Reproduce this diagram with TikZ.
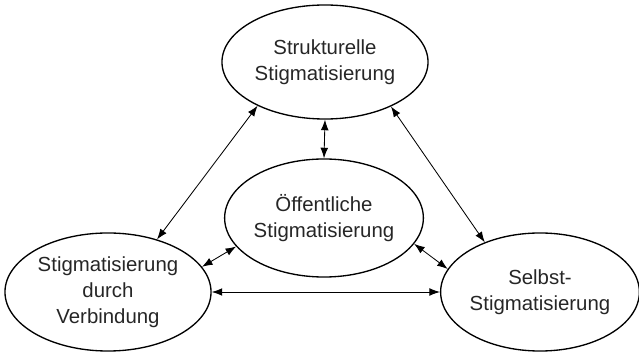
\documentclass[tikz,border=0pt]{standalone}
\usepackage{fontspec}
\setmainfont{Liberation Sans}
\usetikzlibrary{shapes.geometric,arrows.meta}

\begin{document}
\begin{tikzpicture}[
  x=0.025cm, y=-0.025cm,
  oval/.style={draw, ellipse, line width=0.95pt, inner sep=0pt, align=center,
    text=black!85, font=\fontsize{14.5}{18.5}\selectfont},
  link/.style={{Latex[length=7.5pt,width=5.5pt]}-{Latex[length=7.5pt,width=5.5pt]}, line width=0.6pt}
]
\useasboundingbox (0,0) rectangle (639,353);

\node[oval, minimum width=5.15cm, minimum height=2.85cm] (struk) at (325,62) {Strukturelle\\Stigmatisierung};
\node[oval, minimum width=4.9cm, minimum height=2.95cm] (oeff) at (324,218) {Öffentliche\\Stigmatisierung};
\node[oval, minimum width=5.15cm, minimum height=2.95cm] (verb) at (108,292) {Stigmatisierung\\durch\\Verbindung};
\node[oval, minimum width=4.9cm, minimum height=2.95cm] (selbst) at (540,292) {Selbst-\\Stigmatisierung};

\draw[link] (struk.south) -- (oeff.north);
\draw[link] (struk.213) -- (verb.47);
\draw[link] (struk.326) -- (selbst.138);
\draw[link] (oeff.198) -- (verb.15);
\draw[link] (oeff.344) -- (selbst.166);
\draw[link] (verb.east) -- (selbst.west);
\end{tikzpicture}
\end{document}
